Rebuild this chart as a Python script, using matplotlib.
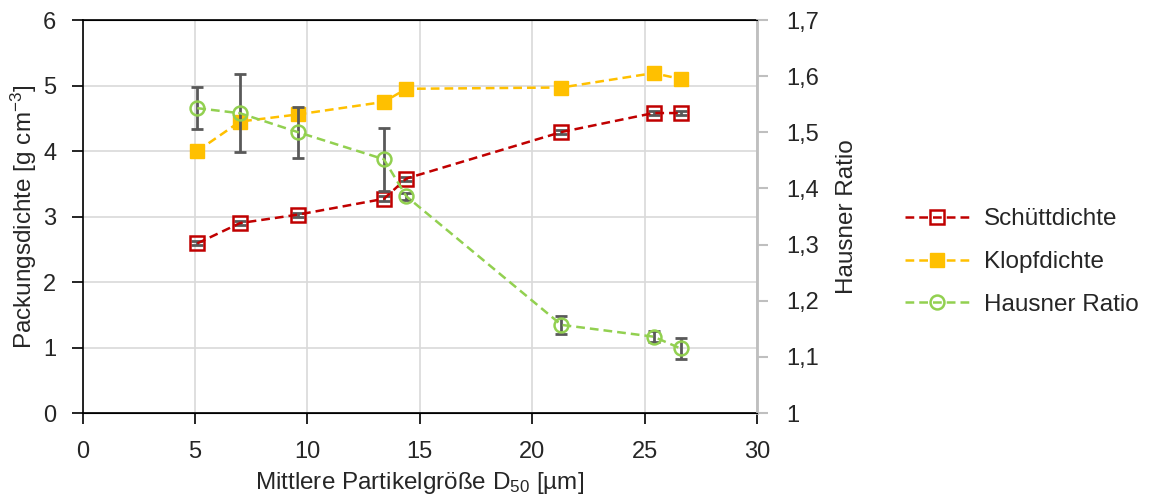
import numpy as np
import matplotlib.pyplot as plt
from matplotlib.ticker import FuncFormatter

plt.rcParams['font.family'] = ['Liberation Sans', 'DejaVu Sans']
plt.rcParams['mathtext.fontset'] = 'custom'
plt.rcParams['mathtext.rm'] = 'Liberation Sans'
plt.rcParams['mathtext.it'] = 'Liberation Sans:italic'
plt.rcParams['mathtext.bf'] = 'Liberation Sans:bold'
plt.rcParams['text.color'] = '#262626'
plt.rcParams['axes.labelcolor'] = '#262626'

# Daten
d50 = [5.1, 7.0, 9.6, 13.4, 14.4, 21.3, 25.4, 26.6]
schuett = [2.59, 2.90, 3.03, 3.27, 3.58, 4.29, 4.58, 4.58]
schuett_err = [0.03, 0.03, 0.03, 0.04, 0.03, 0.03, 0.03, 0.03]
klopf = [4.00, 4.45, 4.56, 4.75, 4.95, 4.97, 5.19, 5.10]
klopf_err = [0.03, 0.03, 0.03, 0.08, 0.03, 0.03, 0.03, 0.03]
hausner = [1.543, 1.534, 1.500, 1.452, 1.386, 1.157, 1.136, 1.115]
hausner_err = [0.037, 0.069, 0.045, 0.056, 0.006, 0.016, 0.010, 0.019]

rot = '#C00000'
gelb = '#FFC000'
gruen = '#92D050'
grau = '#595959'

fig = plt.figure(figsize=(11.61, 5.01), dpi=100)
ax = fig.add_axes([0.0712, 0.1756, 0.5808, 0.7844])
ax2 = ax.twinx()

# Gitter
ax.set_axisbelow(True)
ax.grid(True, color='#d9d9d9', linewidth=1.2)

eb = dict(ecolor=grau, elinewidth=2, capsize=4.5, capthick=2)
strich = (3.5, 2)
ax.errorbar(d50, schuett, yerr=schuett_err, fmt='none', zorder=2, **eb)
l1, = ax.plot(d50, schuett, ls='--', dashes=strich, color=rot, lw=1.8,
              marker='s', ms=9.5, mfc='none', mec=rot, mew=1.8, zorder=3,
              label='Schüttdichte')
ax.errorbar(d50, klopf, yerr=klopf_err, fmt='none', zorder=2, **eb)
l2, = ax.plot(d50, klopf, ls='--', dashes=strich, color=gelb, lw=1.8,
              marker='s', ms=10.5, mfc=gelb, mec=gelb, zorder=3,
              label='Klopfdichte')

ax2.errorbar(d50, hausner, yerr=hausner_err, fmt='none', zorder=2, **eb)
l3, = ax2.plot(d50, hausner, ls='--', dashes=strich, color=gruen, lw=1.8,
               marker='o', ms=10, mfc='none', mec=gruen, mew=1.8, zorder=3,
               label='Hausner Ratio')

ax.set_xlim(0, 30)
ax.set_ylim(0, 6)
ax2.set_ylim(1, 1.7)
ax.set_xticks(np.arange(0, 31, 5))
ax.set_yticks(np.arange(0, 7, 1))
ax2.set_yticks(np.arange(1, 1.71, 0.1))
ax2.yaxis.set_major_formatter(FuncFormatter(
    lambda v, p: '1' if abs(v - 1) < 1e-6 else f'{v:.1f}'.replace('.', ',')))

ax.tick_params(axis='both', labelsize=17, length=8, width=1.2,
               direction='out', colors='black', labelcolor='#262626')
ax.tick_params(axis='x', pad=12)
ax.tick_params(axis='y', pad=11)
ax2.tick_params(axis='y', labelsize=17, length=8, width=1.5, direction='out',
                colors='#bfbfbf', labelcolor='#262626', pad=13)

for s in ['left', 'bottom', 'top']:
    ax.spines[s].set_color('black')
    ax.spines[s].set_linewidth(1.2)
ax2.spines['right'].set_color('#bfbfbf')
ax2.spines['right'].set_linewidth(2)
ax2.spines['left'].set_visible(False)

ax.set_xlabel(r'Mittlere Partikelgröße D$_{\mathregular{50}}$ [µm]',
              fontsize=17.5, labelpad=5)
ax.set_ylabel(r'Packungsdichte [g cm$^{\mathregular{-3}}$]',
              fontsize=17.5, labelpad=3)
ax2.set_ylabel('Hausner Ratio', fontsize=17.5, labelpad=12)

fig.legend(handles=[l1, l2, l3], loc='center left',
           bbox_to_anchor=(0.761, 0.477), frameon=False, fontsize=17.5,
           handlelength=2.63, handletextpad=0.6, labelspacing=0.85)

fig.savefig('out.png', dpi=100)
